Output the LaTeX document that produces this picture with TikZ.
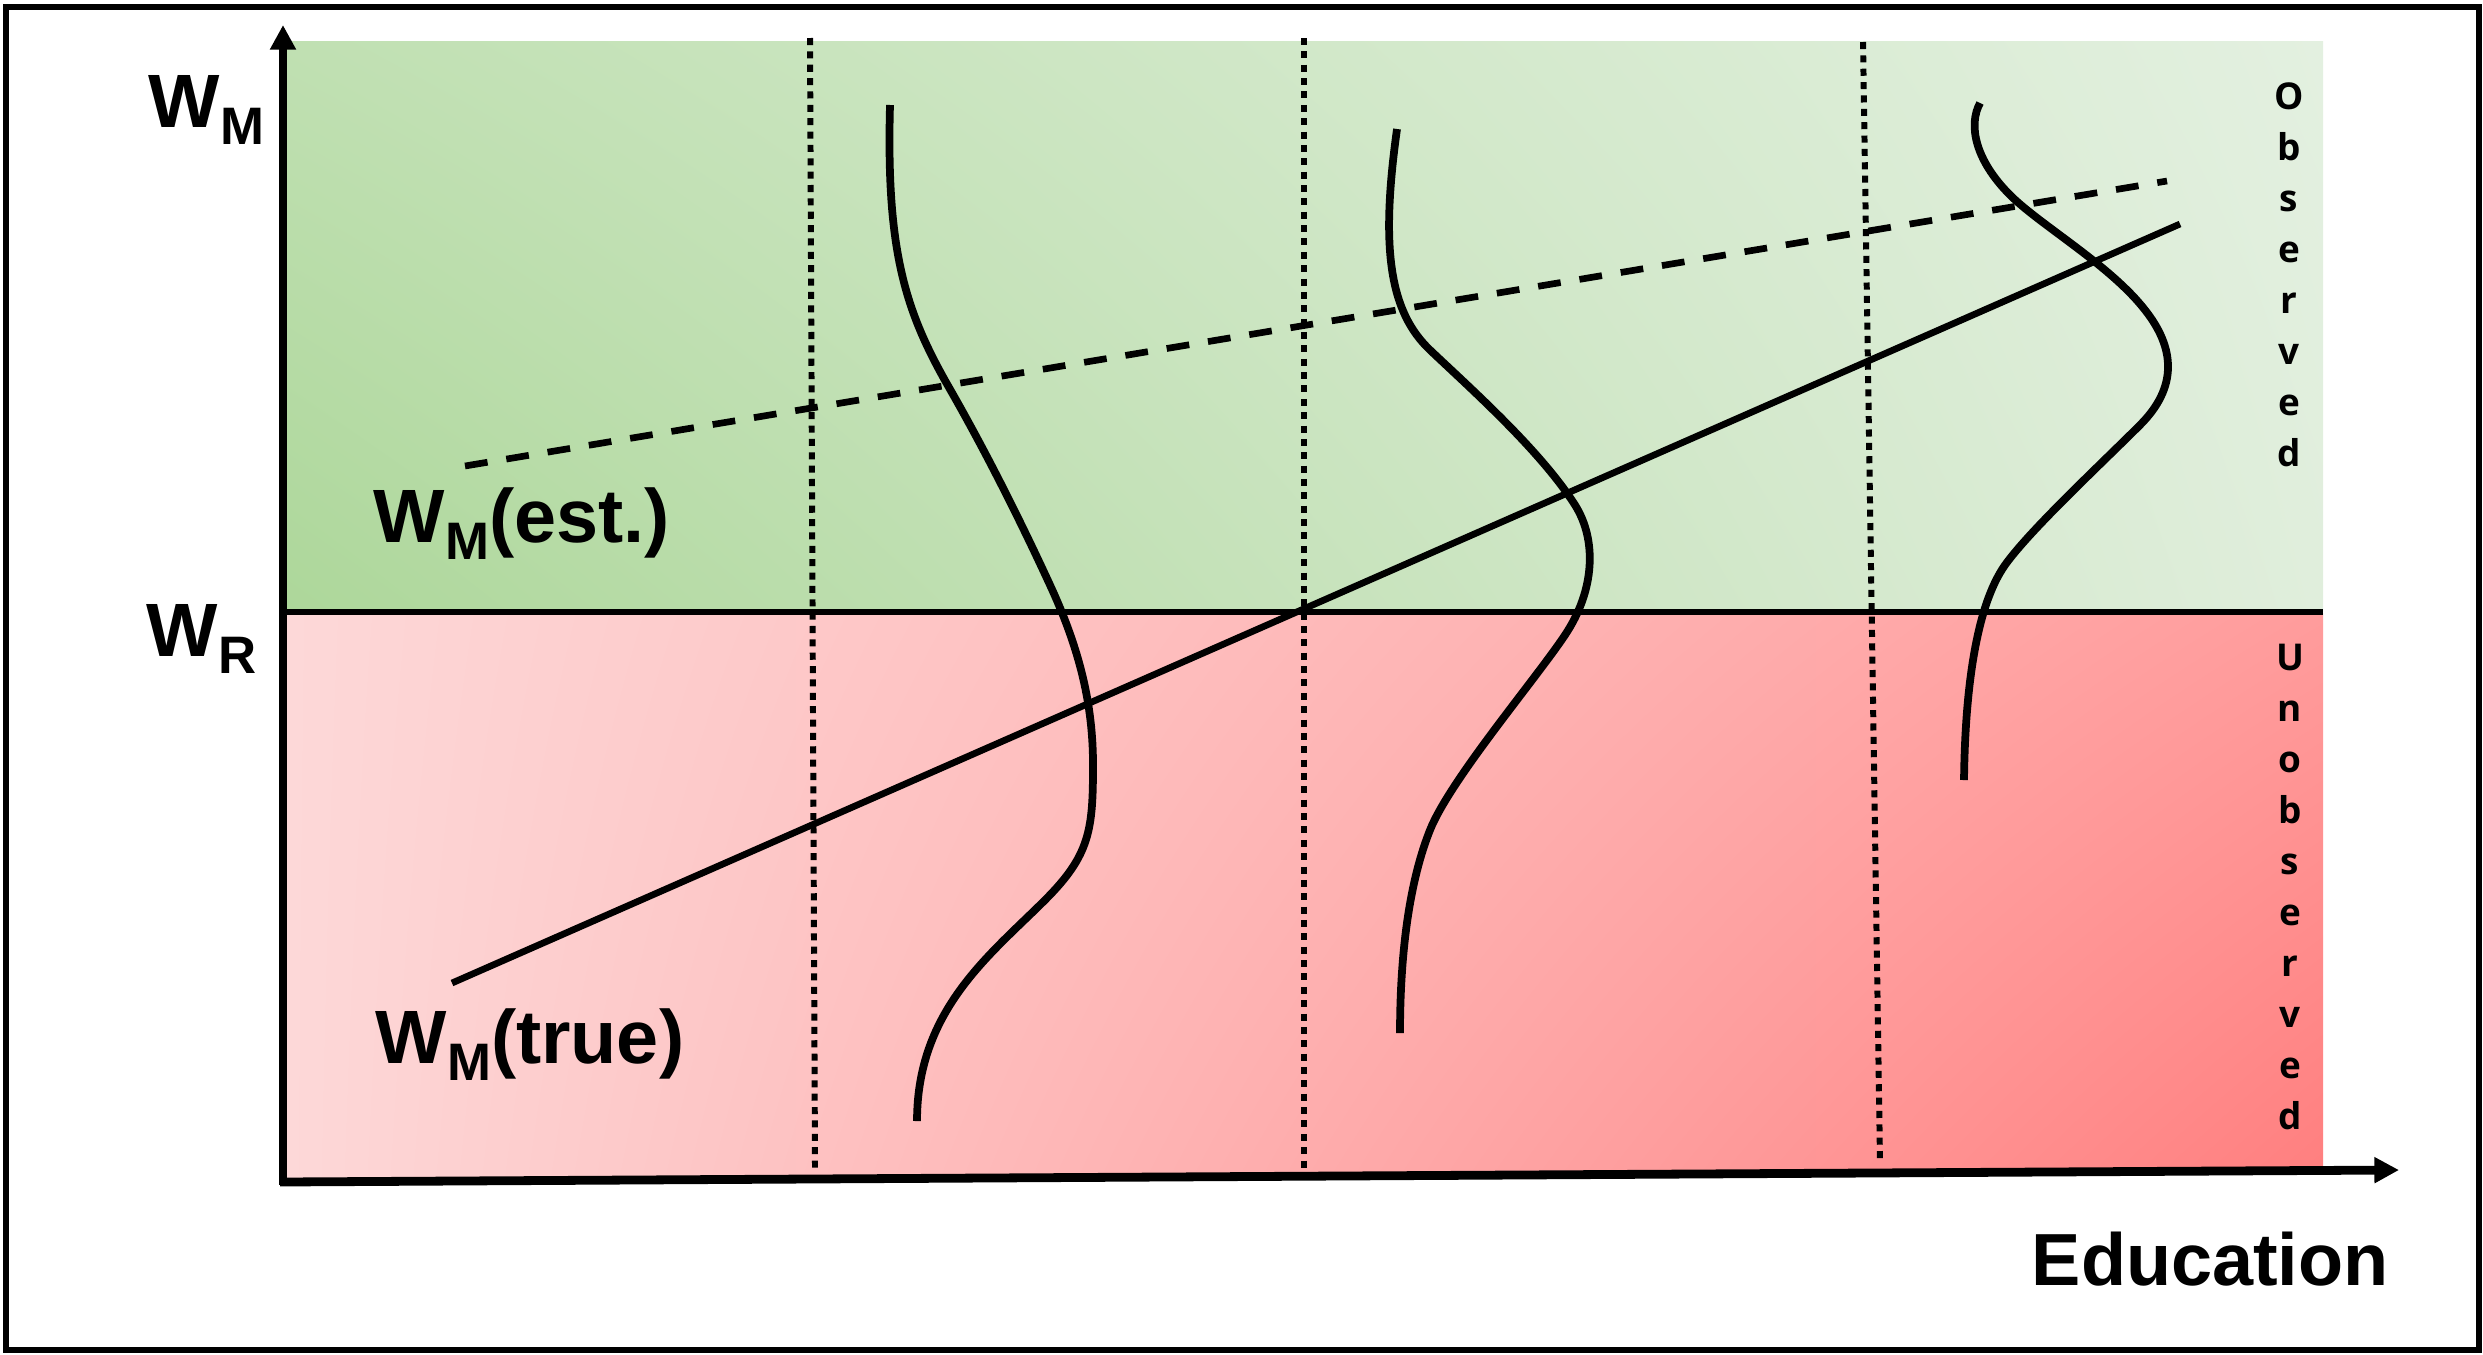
\documentclass[tikz,border=0pt]{standalone}
\usepackage{fontspec}
\setmainfont{Liberation Sans}
\newfontfamily\obsfont{Open Sans}
\usetikzlibrary{arrows.meta,shadings}
\definecolor{gUL}{HTML}{C0E0B2}
\definecolor{gLL}{HTML}{ADD79A}
\definecolor{gUR}{HTML}{E3F0E0}
\definecolor{gLR}{HTML}{E0EEDC}
\definecolor{pUL}{HTML}{FDD8D8}
\definecolor{pLL}{HTML}{FDD8D8}
\definecolor{pUR}{HTML}{FF9C9C}
\definecolor{pLR}{HTML}{FF7F7F}
\newcommand\lsub[1]{\raisebox{-5pt}{\fontsize{15}{15}\selectfont #1}}
\tikzset{
  lab/.style={inner sep=0pt, font=\fontsize{21.5}{24}\selectfont\bfseries},
  side/.style={inner sep=0pt, align=center, font=\obsfont\bfseries\fontsize{10.5}{14.5}\selectfont},
  axisline/.style={line width=2.5pt, -{Triangle[length=7pt,width=7pt]}},
  bell/.style={line width=2.2pt},
  fitline/.style={line width=1.9pt},
  cutline/.style={line width=1.7pt, dash pattern=on 2pt off 1.8pt},
}
\begin{document}
\begin{tikzpicture}[x=0.01cm, y=-0.01cm]
\useasboundingbox (0,0) rectangle (2483,1354);
% frame
\draw[line width=1.6pt] (6,7) rectangle (2479,1350);
% regions
\shade[upper left=gUL, upper right=gUR, lower left=gLL, lower right=gLR] (287,41) rectangle (2323,611);
\shade[upper left=pUL, upper right=pUR, lower left=pLL, lower right=pLR] (287,613) -- (2323,613) -- (2323,1172) -- (287,1180) -- cycle;
% reservation wage line
\draw[line width=1.7pt] (287,612) -- (2323,612);
% dotted cut lines
\draw[cutline] (810,38) -- (815,1169);
\draw[cutline] (1304,38) -- (1304,1172);
\draw[cutline] (1863,42) -- (1880,1162);
% estimated (dashed) and true lines
\draw[fitline, dash pattern=on 6.5pt off 5.4pt] (465,466) -- (2167,181);
\draw[fitline] (452,983) -- (2180,224);
% distributions
\draw[bell] (890,105) .. controls (886,250) and (905,310) .. (947,384)
  .. controls (985,450) and (1020,520) .. (1050,585)
  .. controls (1080,650) and (1093,705) .. (1093,765)
  .. controls (1093,830) and (1090,855) .. (1045,900)
  .. controls (990,955) and (917,1010) .. (917,1121);
\draw[bell] (1397,129) .. controls (1380,250) and (1390,312) .. (1430,350)
  .. controls (1470,388) and (1540,450) .. (1575,505)
  .. controls (1597,540) and (1595,590) .. (1565,635)
  .. controls (1535,680) and (1450,780) .. (1430,830)
  .. controls (1410,880) and (1400,950) .. (1400,1033);
\draw[bell] (1980,103) .. controls (1968,125) and (1975,160) .. (2010,195)
  .. controls (2040,225) and (2110,265) .. (2145,310)
  .. controls (2175,348) and (2178,387) .. (2140,425)
  .. controls (2100,465) and (2030,530) .. (2005,565)
  .. controls (1976,606) and (1965,690) .. (1964,780);
% axes
\coordinate (origin) at (283,1185);
\coordinate (ytip) at (283,25);
\coordinate (xstart) at (280,1182);
\coordinate (xtip) at (2399,1170);
\draw[axisline] (origin) -- (ytip);
\draw[axisline] (xstart) -- (xtip);
% labels
\node[lab, anchor=base west] (wm) at (148,127) {W\lsub{M}};
\node[lab, anchor=base west] (wr) at (146,656) {W\lsub{R}};
\node[lab, anchor=base west] (west) at (373,542) {W\lsub{M}(est.)};
\node[lab, anchor=base west] (wtrue) at (375,1063) {W\lsub{M}(true)};
\node[lab, anchor=base west, font=\fontsize{21}{24}\selectfont\bfseries] (edu) at (2031,1285) {Education};
\node[side, anchor=north] (obs) at (2289,82) {O\\b\\s\\e\\r\\v\\e\\d};
\node[side, anchor=north] (unobs) at (2290,643) {U\\n\\o\\b\\s\\e\\r\\v\\e\\d};
\end{tikzpicture}
\end{document}
